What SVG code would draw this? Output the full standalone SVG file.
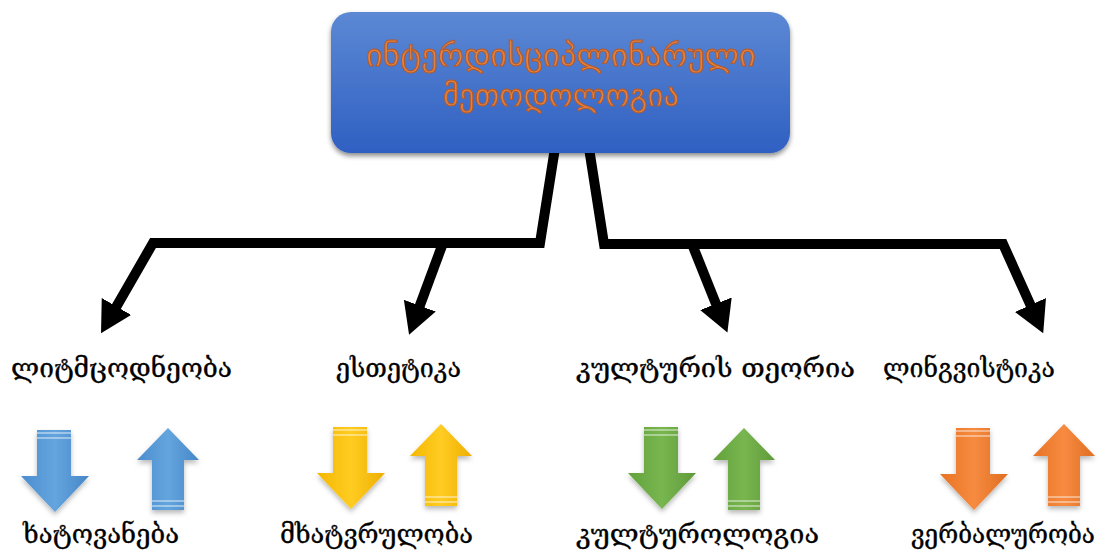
<svg xmlns="http://www.w3.org/2000/svg" width="1112" height="556" viewBox="0 0 1112 556">
  <style>
    .conn { fill: none; stroke: #000; stroke-width: 10; stroke-linejoin: miter; stroke-linecap: butt; }
    .title { font-family: "DejaVu Sans", "DejaVu Serif", sans-serif; font-size: 30px; fill: #e3823f; stroke: #b4592a; stroke-width: 1; }
    .lbl { font-family: "DejaVu Serif", "DejaVu Sans", serif; font-size: 27px; fill: #000; stroke: #000; stroke-width: 0.35; }
    .lbl-sm { font-size: 26px; }
    .stripe { stroke: #ffffff; stroke-opacity: 0.55; stroke-width: 1.5; }
  </style>
  <defs>
    <linearGradient id="boxFill" x1="0" y1="0" x2="0" y2="1">
      <stop offset="0" stop-color="#5c88d4"/>
      <stop offset="1" stop-color="#2f60c2"/>
    </linearGradient>
    <linearGradient id="gBlue" x1="0" y1="0" x2="1" y2="0">
      <stop offset="0" stop-color="#4b8dd0"/>
      <stop offset="0.5" stop-color="#64a5de"/>
      <stop offset="1" stop-color="#4686c8"/>
    </linearGradient>
    <linearGradient id="gYellow" x1="0" y1="0" x2="1" y2="0">
      <stop offset="0" stop-color="#f4b700"/>
      <stop offset="0.5" stop-color="#ffcc22"/>
      <stop offset="1" stop-color="#eeae00"/>
    </linearGradient>
    <linearGradient id="gGreen" x1="0" y1="0" x2="1" y2="0">
      <stop offset="0" stop-color="#63a13b"/>
      <stop offset="0.5" stop-color="#78b650"/>
      <stop offset="1" stop-color="#5f9a38"/>
    </linearGradient>
    <linearGradient id="gOrange" x1="0" y1="0" x2="1" y2="0">
      <stop offset="0" stop-color="#e87324"/>
      <stop offset="0.5" stop-color="#f68b40"/>
      <stop offset="1" stop-color="#e06d21"/>
    </linearGradient>
    <filter id="boxShadow" x="-5%" y="-10%" width="110%" height="130%">
      <feDropShadow dx="0" dy="3" stdDeviation="2.5" flood-color="#000" flood-opacity="0.45"/>
    </filter>
    <filter id="arrowShadow" x="-20%" y="-20%" width="140%" height="140%">
      <feDropShadow dx="0" dy="3" stdDeviation="2.5" flood-color="#000" flood-opacity="0.28"/>
    </filter>
    <filter id="glow" x="-5%" y="-20%" width="110%" height="140%">
      <feGaussianBlur stdDeviation="0.4"/>
    </filter>
    <marker id="head" markerUnits="userSpaceOnUse" markerWidth="31" markerHeight="34" refX="11" refY="17" orient="auto">
      <path d="M0,0 L31,17 L0,34 Z" fill="#000"/>
    </marker>
    <!-- block arrows used in the bottom row -->
    <path id="downArrow" d="M16,0 H50 V46 H68 L34,82 L0,46 H16 Z"/>
    <path id="upArrow" d="M31,0 L62,32 H47 V82 H15 V32 H0 Z"/>
    <g id="downStripes">
      <line class="stripe" x1="16" y1="3" x2="50" y2="3"/>
      <line class="stripe" x1="16" y1="8" x2="50" y2="8"/>
    </g>
    <g id="upStripes">
      <line class="stripe" x1="15" y1="73" x2="47" y2="73"/>
      <line class="stripe" x1="15" y1="78" x2="47" y2="78"/>
    </g>
  </defs>

  <rect width="1112" height="556" fill="#ffffff"/>

  <g id="connectors">
    <path class="conn" d="M555,148 L540,243 L153,243 L111,316" marker-end="url(#head)"/>
    <path class="conn" d="M443,243 L416,316" marker-end="url(#head)"/>
    <path class="conn" d="M589,148 L604,244 L1003,244 L1035,315" marker-end="url(#head)"/>
    <path class="conn" d="M692,244 L720,314" marker-end="url(#head)"/>
  </g>

  <g id="root">
    <rect x="331" y="12" width="459" height="141" rx="20" fill="url(#boxFill)" filter="url(#boxShadow)"/>
    <g filter="url(#glow)">
      <text class="title" x="366" y="66" textLength="390" lengthAdjust="spacingAndGlyphs">ინტერდისციპლინარული</text>
      <text class="title" x="443" y="106" textLength="236" lengthAdjust="spacingAndGlyphs">მეთოდოლოგია</text>
    </g>
  </g>

  <g id="cat-literature">
    <text class="lbl" x="11" y="377" textLength="221" lengthAdjust="spacingAndGlyphs">ლიტმცოდნეობა</text>
  </g>
  <g id="cat-aesthetics">
    <text class="lbl" x="336" y="377" textLength="125" lengthAdjust="spacingAndGlyphs">ესთეტიკა</text>
  </g>
  <g id="cat-culture">
    <text class="lbl" x="576" y="377" textLength="279" lengthAdjust="spacingAndGlyphs">კულტურის თეორია</text>
  </g>
  <g id="cat-linguistics">
    <text class="lbl" x="883" y="377" textLength="172" lengthAdjust="spacingAndGlyphs">ლინგვისტიკა</text>
  </g>

  <g id="pair-blue">
    <g transform="translate(21,430)" filter="url(#arrowShadow)">
      <use href="#downArrow" fill="url(#gBlue)"/>
      <use href="#downStripes"/>
    </g>
    <g transform="translate(137,428)" filter="url(#arrowShadow)">
      <use href="#upArrow" fill="url(#gBlue)"/>
      <use href="#upStripes"/>
    </g>
    <text class="lbl" x="23" y="543" textLength="156" lengthAdjust="spacingAndGlyphs">ხატოვანება</text>
  </g>

  <g id="pair-yellow">
    <g transform="translate(317,427)" filter="url(#arrowShadow)">
      <use href="#downArrow" fill="url(#gYellow)"/>
      <use href="#downStripes"/>
    </g>
    <g transform="translate(410,424)" filter="url(#arrowShadow)">
      <use href="#upArrow" fill="url(#gYellow)"/>
      <use href="#upStripes"/>
    </g>
    <text class="lbl" x="280" y="543" textLength="193" lengthAdjust="spacingAndGlyphs">მხატვრულობა</text>
  </g>

  <g id="pair-green">
    <g transform="translate(628,427)" filter="url(#arrowShadow)">
      <use href="#downArrow" fill="url(#gGreen)"/>
      <use href="#downStripes"/>
    </g>
    <g transform="translate(713,428)" filter="url(#arrowShadow)">
      <use href="#upArrow" fill="url(#gGreen)"/>
      <use href="#upStripes"/>
    </g>
    <text class="lbl" x="576" y="543" textLength="243" lengthAdjust="spacingAndGlyphs">კულტუროლოგია</text>
  </g>

  <g id="pair-orange">
    <g transform="translate(940,428)" filter="url(#arrowShadow)">
      <use href="#downArrow" fill="url(#gOrange)"/>
      <use href="#downStripes"/>
    </g>
    <g transform="translate(1033,424)" filter="url(#arrowShadow)">
      <use href="#upArrow" fill="url(#gOrange)"/>
      <use href="#upStripes"/>
    </g>
    <text class="lbl lbl-sm" x="911" y="543" textLength="184" lengthAdjust="spacingAndGlyphs">ვერბალურობა</text>
  </g>
</svg>
